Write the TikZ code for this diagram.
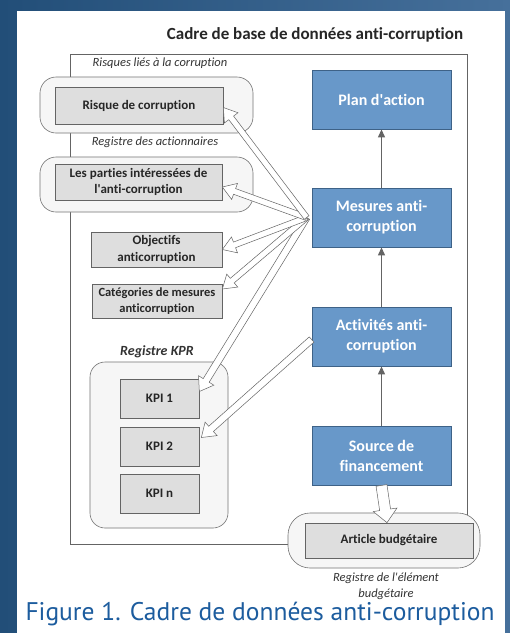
\documentclass[tikz,border=0pt]{standalone}
\usepackage{fontspec}
\setmainfont{Carlito}[Ligatures=NoCommon]
\newfontfamily\capfont{PT Sans}
\usetikzlibrary{calc,arrows.meta}

\definecolor{boxblue}{RGB}{104,152,201}
\definecolor{boxblueline}{RGB}{62,98,135}
\definecolor{boxgray}{RGB}{222,222,222}
\definecolor{linegray}{RGB}{100,100,100}
\definecolor{regfill}{RGB}{246,246,246}
\definecolor{capblue}{RGB}{28,92,158}
\definecolor{bgleft}{RGB}{34,78,120}
\definecolor{bgright}{RGB}{70,112,155}

\tikzset{
    actbox/.style={draw=boxblueline, fill=boxblue, line width=0.8pt, text=white,
        font=\bfseries\fontsize{16}{20}\selectfont, align=center,
        minimum width=139pt, minimum height=59pt, inner sep=2pt},
    regbox/.style={draw=linegray, fill=boxgray, line width=0.7pt, text=black!85,
        font=\bfseries\fontsize{13}{16.5}\selectfont, align=center, inner sep=1pt},
    regframe/.style={draw=linegray!90, fill=regfill, line width=0.6pt, rounded corners=16pt},
    reglabel/.style={font=\itshape\fontsize{12.5}{16}\selectfont, text=black!80, align=center},
    upflow/.style={draw=linegray, line width=1.1pt, -{Triangle[length=8pt,width=7pt]}}
}

% hollow block arrow: from, to, half shaft, half head
\newcommand{\hollowarrow}[4]{%
    \path[draw=linegray, fill=white, line width=0.5pt]
        let \p1=($(#2)-(#1)$), \n1={atan2(\y1,\x1)} in
        ($(#1)+(\n1+90:#3)$) -- ($(#2)+(\n1+180:13pt)+(\n1+90:#3)$)
        -- ($(#2)+(\n1+180:13pt)+(\n1+90:#4)$) -- (#2)
        -- ($(#2)+(\n1+180:13pt)+(\n1-90:#4)$) -- ($(#2)+(\n1+180:13pt)+(\n1-90:#3)$)
        -- ($(#1)+(\n1-90:#3)$) -- cycle;}

\begin{document}
\begin{tikzpicture}[x=1pt,y=-1pt]
    \useasboundingbox (0,0) rectangle (510,633);
    \shade[left color=bgleft, right color=bgright] (0,0) rectangle (510,633);
    \fill[white] (17,11) rectangle (505,633);

    \node[font=\bfseries\fontsize{17}{20}\selectfont, text=black!85] (title) at (315,35)
        {Cadre de base de données anti-corruption};
    \draw[linegray, line width=0.7pt] (70,54) rectangle (467,544);

    % registres
    \node[reglabel] (risklab) at (160,63) {Risques liés à la corruption};
    \draw[regframe] (40,77) rectangle (253,133);
    \node[regbox, minimum width=168pt, minimum height=37pt] (risque) at (139,105.5) {Risque de corruption};

    \node[reglabel] (actlab) at (155,142) {Registre des actionnaires};
    \draw[regframe] (40,157) rectangle (253,212);
    \node[regbox, minimum width=167pt, minimum height=36pt] (parties) at (138.5,182)
        {Les parties intéressées de\\l\textquotesingle anti-corruption};

    \node[regbox, minimum width=131pt, minimum height=35pt] (objectifs) at (156.5,249.5)
        {Objectifs\\anticorruption};
    \node[regbox, minimum width=130pt, minimum height=34pt, font=\bfseries\fontsize{12.5}{16}\selectfont]
        (categories) at (157,301) {Catégories de mesures\\anticorruption};

    \node[reglabel, font=\bfseries\itshape\fontsize{14}{16}\selectfont] (kprlab) at (157,352) {Registre KPR};
    \draw[regframe, rounded corners=15pt] (90,362) rectangle (228,528);
    \foreach \k/\name/\y in {1/kpi1/398.5, 2/kpi2/446.5, n/kpin/493.5}
        \node[regbox, minimum width=79pt, minimum height=39pt] (\name) at (159.5,\y) {KPI \k};

    \draw[regframe, rounded corners=22pt] (288,513) rectangle (480,568);
    \node[regbox, minimum width=168pt, minimum height=35pt] (article) at (389,540.5) {Article budgétaire};
    \node[reglabel] (budlab) at (386,586) {Registre de l\textquotesingle élément\\budgétaire};

    % chaine bleue
    \node[actbox] (plan) at (381.5,99.5) {Plan d\textquotesingle action};
    \node[actbox] (mesures) at (381.5,217.5) {Mesures anti-\\corruption};
    \node[actbox] (activites) at (381.5,336.5) {Activités anti-\\corruption};
    \node[actbox] (source) at (381.5,455.5) {Source de\\financement};

    \draw[upflow] (source) -- (activites);
    \draw[upflow] (activites) -- (mesures);
    \draw[upflow] (mesures) -- (plan);

    % fleches creuses
    \coordinate (hub) at ([xshift=-5pt]mesures.west);
    \coordinate (hub2) at ([yshift=-3pt]activites.west);
    \coordinate (trisque) at ([yshift=-2pt]risque.east);
    \coordinate (tparties) at ([yshift=-5pt]parties.east);
    \coordinate (tobjectifs) at (objectifs.east);
    \coordinate (tcategories) at ([yshift=12pt]categories.east);
    \coordinate (tkpi1) at ([yshift=7pt]kpi1.east);
    \coordinate (tkpi2) at ([xshift=2pt,yshift=9pt]kpi2.east);
    \coordinate (tarticle) at ([xshift=-2pt]article.north);

    \hollowarrow{hub}{tkpi1}{3.5pt}{9pt}
    \hollowarrow{hub}{tcategories}{3pt}{8.5pt}
    \hollowarrow{hub}{tobjectifs}{3pt}{8.5pt}
    \hollowarrow{hub}{tparties}{3pt}{8.5pt}
    \hollowarrow{hub}{trisque}{3pt}{8.5pt}
    \hollowarrow{hub2}{tkpi2}{3.5pt}{9pt}
    \hollowarrow{source.south}{tarticle}{5.5pt}{12pt}

    \node[font=\capfont\fontsize{25.5}{30}\selectfont, text=capblue] (caption) at (260,614)
        {Figure 1. Cadre de données anti-corruption};
\end{tikzpicture}
\end{document}
